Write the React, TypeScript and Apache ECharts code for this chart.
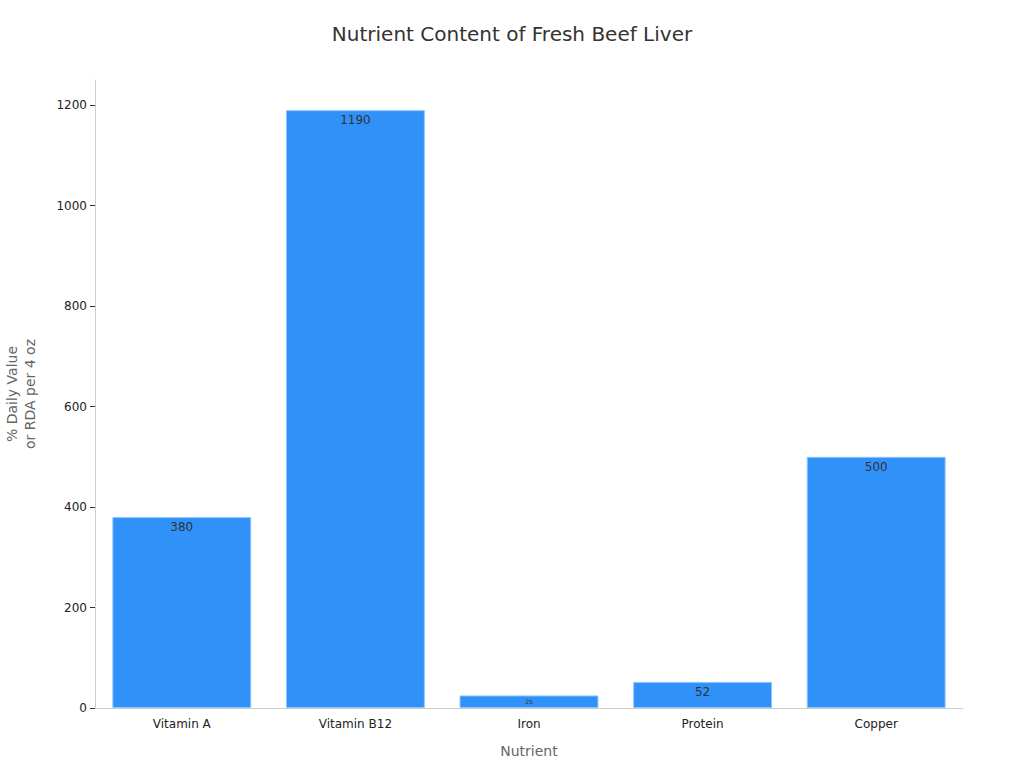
import { useEffect, useRef } from 'react';
import * as echarts from 'echarts';

const nutrients = ['Vitamin A', 'Vitamin B12', 'Iron', 'Protein', 'Copper'];
const dailyValues = [380, 1190, 25, 52, 500];
const yTicks = [0, 200, 400, 600, 800, 1000, 1200];

export default function App() {
  const chartRef = useRef<HTMLDivElement>(null);

  useEffect(() => {
    if (!chartRef.current) return;
    document.body.style.margin = '0';
    const chart = echarts.init(chartRef.current, null, { renderer: 'svg' });

    chart.setOption({
      animation: false,
      textStyle: { fontFamily: 'DejaVu Sans' },
      title: {
        text: 'Nutrient Content of Fresh Beef Liver',
        left: 'center',
        top: 19,
        textStyle: { fontSize: 20, fontWeight: 'normal', color: '#333' },
      },
      grid: { left: 95, right: 61, top: 80, bottom: 60, outerBoundsMode: 'none' },
      xAxis: {
        type: 'category',
        data: nutrients,
        name: 'Nutrient',
        nameLocation: 'middle',
        nameGap: 36,
        nameTextStyle: { fontSize: 14, color: '#666' },
        axisLine: { lineStyle: { color: '#ccc' } },
        axisTick: { alignWithLabel: true, lineStyle: { color: '#333' } },
        axisLabel: { fontSize: 12, color: '#222', margin: 10 },
      },
      yAxis: {
        type: 'value',
        min: 0,
        max: 1250,
        name: '% Daily Value\nor RDA per 4 oz',
        nameLocation: 'middle',
        nameGap: 56,
        nameTextStyle: { fontSize: 14, color: '#666', lineHeight: 18 },
        axisLine: { show: true, lineStyle: { color: '#ccc' } },
        axisTick: { show: true, customValues: yTicks, lineStyle: { color: '#333' } },
        axisLabel: {
          customValues: yTicks,
          fontSize: 12,
          color: '#222',
          formatter: (v: number) => String(v),
        },
        splitLine: { show: false },
      },
      series: [
        {
          type: 'bar',
          data: dailyValues.map((v, i) => ({
            value: v,
            label: i === 2 ? { fontSize: 6, distance: 3 } : undefined,
          })),
          barWidth: '80%',
          itemStyle: { color: '#3092f9', borderColor: '#8cc4ff', borderWidth: 1 },
          label: {
            show: true,
            position: 'insideTop',
            distance: 4,
            fontSize: 12,
            color: '#333',
          },
        },
      ],
    });

    return () => chart.dispose();
  }, []);

  return <div ref={chartRef} style={{ width: 1024, height: 768 }} />;
}
